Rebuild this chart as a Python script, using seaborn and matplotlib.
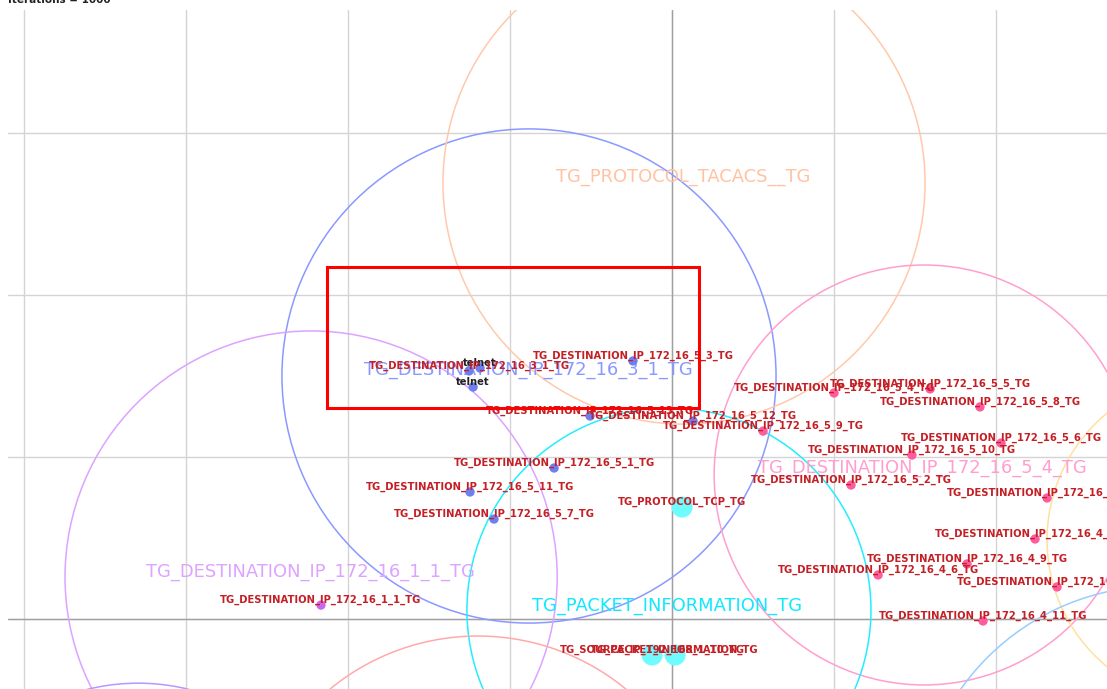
# coding: utf-8

import numpy as np
import pandas as pd
import seaborn as sns
import matplotlib.pyplot as plt
from matplotlib.patches import Circle, Rectangle

# cluster circles (world units, one grid cell = 1)
cluster_names = ["TG_DESTINATION_IP_172_16_3_1_TG", "TG_PROTOCOL_TACACS__TG", "TG_DESTINATION_IP_172_16_5_4_TG",
	"TG_DESTINATION_IP_172_16_1_1_TG", "TG_PACKET_INFORMATION_TG", "c6", "c7", "c8", "c9"]
cluster_x = [-0.883, 0.074, 1.556, -2.228, -0.019, -1.198, -3.296, 3.327, 3.012]
cluster_y = [1.500, 2.691, 0.889, 0.259, 0.056, -1.543, -1.698, 0.488, -1.302]
cluster_r = [1.525, 1.488, 1.296, 1.519, 1.247, 1.438, 1.302, 1.012, 1.506]
cluster_label_x = [-0.889, 0.068, 1.543, -2.235, -0.031, None, None, None, None]
cluster_label_y = [1.537, 2.728, 0.932, 0.290, 0.080, None, None, None, None]
cluster_colors = ["#8a99ff", "#ffc9ab", "#ff9fcf", "#dca3ff", "#22eeff", "#ffaaaa", "#b399ff", "#ffe0a0", "#99ccff"]
cluster_text_colors = ["#8a99ff", "#ffc2a3", "#ff9fcf", "#dca3ff", "#11e8ff", None, None, None, None]

# nodes
node_labels = ["telnet", "telnet", "TG_DESTINATION_IP_172_16_3_1_TG", "TG_DESTINATION_IP_172_16_5_3_TG",
	"TG_DESTINATION_IP_172_16_5_13_TG", "TG_DESTINATION_IP_172_16_5_12_TG", "TG_DESTINATION_IP_172_16_5_1_TG",
	"TG_DESTINATION_IP_172_16_5_11_TG", "TG_DESTINATION_IP_172_16_5_7_TG",
	"TG_DESTINATION_IP_172_16_5_4_TG", "TG_DESTINATION_IP_172_16_5_5_TG", "TG_DESTINATION_IP_172_16_5_8_TG",
	"TG_DESTINATION_IP_172_16_5_9_TG", "TG_DESTINATION_IP_172_16_5_6_TG", "TG_DESTINATION_IP_172_16_5_10_TG",
	"TG_DESTINATION_IP_172_16_5_2_TG", "TG_DESTINATION_IP_172_16_4_2_TG", "TG_DESTINATION_IP_172_16_4_3_TG",
	"TG_DESTINATION_IP_172_16_4_9_TG", "TG_DESTINATION_IP_172_16_4_6_TG", "TG_DESTINATION_IP_172_16_4_7_TG",
	"TG_DESTINATION_IP_172_16_4_11_TG",
	"TG_DESTINATION_IP_172_16_1_1_TG",
	"TG_PROTOCOL_TCP_TG", "TG_SOURCE_IP_192_168_1_10_TG", "TG_PACKET_INFORMATION_TG"]
node_x = [-1.185, -1.228, -1.253, -0.241, -0.506, 0.130, -0.728, -1.247, -1.099,
	1.000, 1.593, 1.901, 0.562, 2.031, 1.481, 1.105, 2.315, 2.241, 1.821, 1.272, 2.377, 1.920,
	-2.167,
	0.062, -0.123, 0.019]
node_y = [1.549, 1.432, 1.531, 1.593, 1.253, 1.222, 0.932, 0.784, 0.617,
	1.395, 1.420, 1.309, 1.160, 1.086, 1.012, 0.827, 0.747, 0.494, 0.340, 0.272, 0.198, -0.012,
	0.086,
	0.691, -0.222, -0.222]
node_group = ["blue"] * 9 + ["pink"] * 13 + ["lilac"] + ["cyan"] * 3
node_kind = ["small"] * 23 + ["big"] * 3

selection_box = [-2.130, 1.302, 2.296, 0.870]


def plotgraph(clusters, nodes):
	fig = plt.figure(figsize = (11.07, 6.89), dpi = 100)
	ax = fig.add_axes([8 / 1107, 0, 1099 / 1107, 679 / 689])
	ax.set_xlim(-4.099, 2.685)
	ax.set_ylim(-0.432, 3.759)

	# grid
	ax.set_xticks(range(-4, 3))
	ax.set_yticks(range(0, 4))
	ax.grid(True, color = "#d4d4d4", linewidth = 1)
	ax.axvline(0, color = "#a0a0a0", linewidth = 1)
	ax.axhline(0, color = "#a0a0a0", linewidth = 1)
	ax.tick_params(length = 0, labelbottom = False, labelleft = False)
	sns.despine(ax = ax, left = True, bottom = True)

	for _, c in clusters.iterrows():
		ax.add_patch(Circle((c.x, c.y), c.r, fill = False, edgecolor = c.color, linewidth = 1.1, zorder = 2))
	for _, c in clusters.dropna(subset = ["lx"]).iterrows():
		ax.text(c.lx, c.ly, c["name"], color = c.tcolor, fontsize = 12.9, ha = "center", va = "center", zorder = 3)

	palette = {"blue": "#6f7ff0", "pink": "#ff5c9d", "lilac": "#cc66ee", "cyan": "#6ffcff"}
	sns.scatterplot(data = nodes, x = "x", y = "y", hue = "group", palette = palette, size = "kind",
		sizes = {"small": 45, "big": 230}, linewidth = 0, legend = False, ax = ax, zorder = 4)

	for _, n in nodes.iterrows():
		col = "#222222" if n.label == "telnet" else "#c41f25"
		ax.annotate(n.label, (n.x, n.y), xytext = (0, 3.5), textcoords = "offset points", ha = "center", va = "center",
			fontsize = 7.2, fontweight = "bold", color = col, zorder = 5)

	bx, by, bw, bh = selection_box
	ax.add_patch(Rectangle((bx, by), bw, bh, fill = False, edgecolor = "#ff0000", linewidth = 2.2, zorder = 6))

	ax.set_xlabel("")
	ax.set_ylabel("")
	# header text, mostly cut off by the top edge
	fig.text(0.007, 1 - 3 / 689, "Iterations = 1000", fontsize = 7.5, fontweight = "bold", va = "baseline", color = "#222222")
	fig.savefig("out.png", dpi = 100)


def run():
	sns.set_style("white")
	plt.rcParams['font.family'] = ['DejaVu Sans']
	clusters = pd.DataFrame({"name": cluster_names, "x": cluster_x, "y": cluster_y, "r": cluster_r,
		"lx": cluster_label_x, "ly": cluster_label_y, "color": cluster_colors, "tcolor": cluster_text_colors})
	nodes = pd.DataFrame({"label": node_labels, "x": node_x, "y": node_y, "group": node_group, "kind": node_kind})
	plotgraph(clusters, nodes)

if __name__ == '__main__':
	run()
